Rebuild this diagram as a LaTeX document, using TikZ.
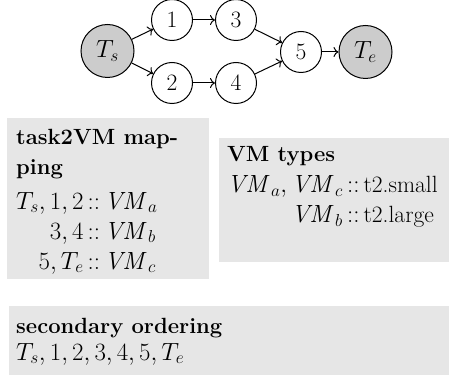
\documentclass[tikz,border=0pt]{standalone}
\usetikzlibrary{arrows.meta}
% the "::" separator of the mapping lists
\newcommand{\mapsep}{\,{::}\,}
\begin{document}
\begin{tikzpicture}[x=1pt, y=-1pt,
  every node/.style={font=\fontsize{23.5}{30}\selectfont, inner sep=0pt},
  heading/.style={anchor=base west, font=\fontsize{22}{29}\selectfont\bfseries},
  task/.style={circle, draw, line width=1pt, minimum size=41pt},
  terminal/.style={circle, draw, line width=1pt, fill=termgray, minimum size=53pt},
  edge/.style={line width=1pt, -{To[length=5pt, width=10pt]}},
  line/.style={anchor=base west}]
\definecolor{termgray}{HTML}{CCCCCC}
\definecolor{panelgray}{HTML}{E6E6E6}
\useasboundingbox (0,0) rectangle (449,379);

% workflow graph
\node[terminal] (ts) at (107.5,51) {$T_s$};
\node[task] (t1) at (172,20) {1};
\node[task] (t2) at (172,83) {2};
\node[task] (t3) at (236,20) {3};
\node[task] (t4) at (236,83) {4};
\node[task] (t5) at (301,52) {5};
\node[terminal] (te) at (365.5,52) {$T_e$};
\draw[edge] (ts) -- (t1);
\draw[edge] (ts) -- (t2);
\draw[edge] (t1) -- (t3);
\draw[edge] (t2) -- (t4);
\draw[edge] (t3) -- (t5);
\draw[edge] (t4) -- (t5);
\draw[edge] (t5) -- (te);

% task to VM mapping
\fill[panelgray] (7,118.5) rectangle (209,279);
\node[heading] (m1) at (16,145) {task2VM map-};
\node[heading] (m2) at (16,175) {ping};
\node[line] (m3) at (16,209) {%
  \begin{tabular}[t]{@{}r@{}l@{}}
    $T_s, 1, 2$ & $\mapsep\mathit{VM}_a$\\
    $3, 4$ & $\mapsep\mathit{VM}_b$\\
    $5, T_e$ & $\mapsep\mathit{VM}_c$
  \end{tabular}};

% VM types
\fill[panelgray] (219,138) rectangle (449,262);
\node[heading] (v1) at (227,162) {VM types};
\node[line] (v2) at (227,193) {%
  \begin{tabular}[t]{@{}r@{}l@{}}
    $\mathit{VM}_a, \mathit{VM}_c$ & $\mapsep$t2.small\\
    $\mathit{VM}_b$ & $\mapsep$t2.large
  \end{tabular}};

% secondary ordering
\fill[panelgray] (9,306) rectangle (449,375);
\node[heading] (s1) at (16,333) {secondary ordering};
\node[line] (s2) at (16,360) {$T_s, 1, 2, 3, 4, 5, T_e$};
\end{tikzpicture}
\end{document}
